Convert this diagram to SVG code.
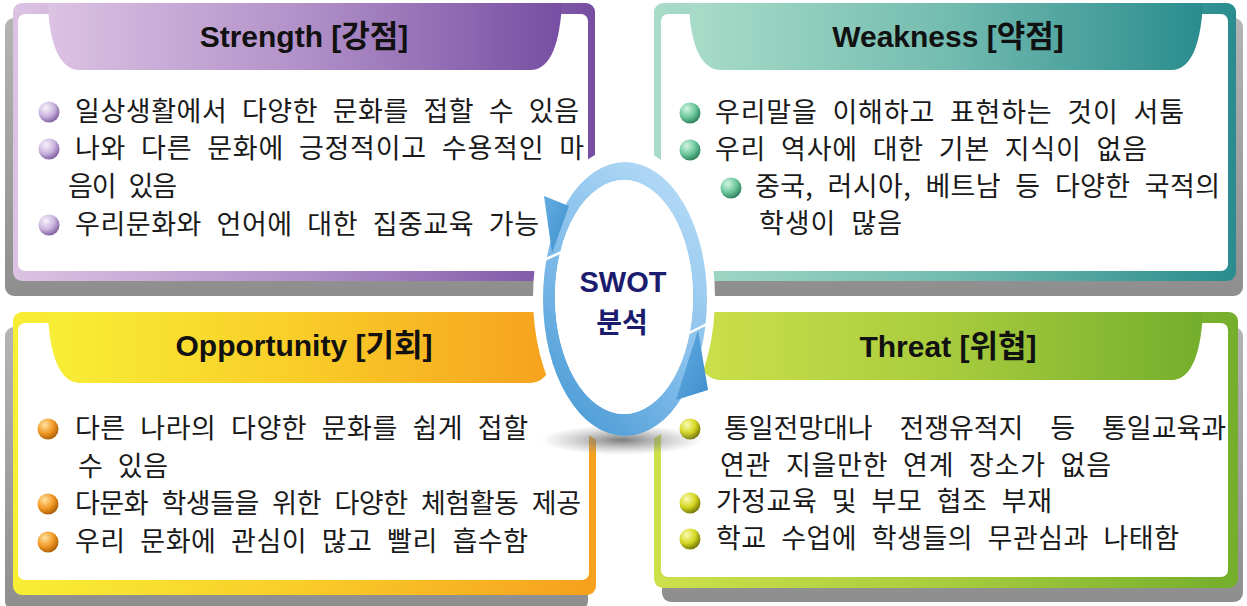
<svg xmlns="http://www.w3.org/2000/svg" width="1247" height="606" viewBox="0 0 1247 606">
<defs>
<style>
.title{font-family:"Liberation Sans","Noto Sans CJK KR",Arial,sans-serif;font-weight:bold;font-size:30px;fill:#111;text-anchor:middle}
.title .ko{font-family:"Noto Sans CJK KR","Liberation Sans",sans-serif;font-size:31px}
.body{font-family:"Noto Sans CJK KR","Noto Sans",sans-serif;font-size:27px;fill:#1a1a1a;word-spacing:8px}
.center{font-family:"Liberation Sans","Noto Sans CJK KR",Arial,sans-serif;font-weight:bold;fill:#1c1c6e;text-anchor:middle}
.inner{fill:#fff}
.shadow{fill:url(#gShadow)}
</style>
<linearGradient id="gShadow" x1="0" y1="0" x2="0" y2="1"><stop offset="0" stop-color="#b4b4b4"/><stop offset="1" stop-color="#8e8e8e"/></linearGradient>
<linearGradient id="gS" x1="0" y1="0" x2="1" y2="0"><stop offset="0" stop-color="#dcc2e3"/><stop offset="0.5" stop-color="#b190c8"/><stop offset="1" stop-color="#774ea2"/></linearGradient>
<linearGradient id="gW" x1="0" y1="0" x2="1" y2="0"><stop offset="0" stop-color="#a8dcc8"/><stop offset="0.5" stop-color="#74bcb0"/><stop offset="1" stop-color="#2a8c8e"/></linearGradient>
<linearGradient id="gO" x1="0" y1="0" x2="1" y2="0"><stop offset="0" stop-color="#f8ee36"/><stop offset="0.5" stop-color="#f9cc28"/><stop offset="1" stop-color="#f6a01e"/></linearGradient>
<linearGradient id="gT" x1="0" y1="0" x2="1" y2="0"><stop offset="0" stop-color="#cde04a"/><stop offset="0.5" stop-color="#a8cc3e"/><stop offset="1" stop-color="#74ae2c"/></linearGradient>
<radialGradient id="bS" cx="0.35" cy="0.3" r="0.75"><stop offset="0" stop-color="#f8f2fb"/><stop offset="0.55" stop-color="#cbb4de"/><stop offset="1" stop-color="#7a5a9c"/></radialGradient>
<radialGradient id="bW" cx="0.35" cy="0.3" r="0.75"><stop offset="0" stop-color="#d4f4e4"/><stop offset="0.55" stop-color="#6cc89c"/><stop offset="1" stop-color="#2a7a58"/></radialGradient>
<radialGradient id="bO" cx="0.35" cy="0.3" r="0.75"><stop offset="0" stop-color="#ffe2a0"/><stop offset="0.55" stop-color="#f29a26"/><stop offset="1" stop-color="#a85a06"/></radialGradient>
<radialGradient id="bT" cx="0.35" cy="0.3" r="0.75"><stop offset="0" stop-color="#fbfbb4"/><stop offset="0.55" stop-color="#d4d620"/><stop offset="1" stop-color="#6e7006"/></radialGradient>
<linearGradient id="gRing" x1="0.8" y1="0" x2="0.2" y2="1"><stop offset="0" stop-color="#b6dcf6"/><stop offset="0.5" stop-color="#88c0ec"/><stop offset="1" stop-color="#4a9bd6"/></linearGradient>
<linearGradient id="gBarb" x1="0" y1="0" x2="1" y2="1"><stop offset="0" stop-color="#62ade0"/><stop offset="1" stop-color="#3f8ecf"/></linearGradient>
<radialGradient id="gEllShadow" cx="0.5" cy="0.5" r="0.5"><stop offset="0" stop-color="#6e6e6e" stop-opacity="0.9"/><stop offset="1" stop-color="#9a9a9a" stop-opacity="0"/></radialGradient>
</defs>
<rect width="1247" height="606" fill="#fff"/>

<g id="strength">
<rect class="shadow" x="5" y="18" width="582" height="278" rx="9"/>
<rect x="13" y="3" width="582" height="278" rx="9" fill="url(#gS)"/>
<rect class="inner" x="18" y="14" width="570" height="257" rx="7"/>
<path d="M48,3 L562,3 C560,40 552,70 530,70 L80,70 C58,70 49,40 48,3 Z" fill="url(#gS)"/>
<text class="title" x="304" y="47">Strength [<tspan class="ko">강점</tspan>]</text>
<circle cx="49" cy="112" r="10.5" fill="url(#bS)"/>
<circle cx="49" cy="149" r="10.5" fill="url(#bS)"/>
<circle cx="49" cy="225" r="10.5" fill="url(#bS)"/>
<text class="body" x="75" y="121" textLength="504" lengthAdjust="spacing">일상생활에서 다양한 문화를 접할 수 있음</text>
<text class="body" x="75" y="158" textLength="509" lengthAdjust="spacing">나와 다른 문화에 긍정적이고 수용적인 마</text>
<text class="body" x="68" y="196" textLength="109" lengthAdjust="spacing">음이 있음</text>
<text class="body" x="75" y="234" textLength="464" lengthAdjust="spacing">우리문화와 언어에 대한 집중교육 가능</text>
</g>

<g id="weakness">
<rect class="shadow" x="662" y="18" width="581" height="278" rx="9"/>
<rect x="654" y="3" width="582" height="278" rx="9" fill="url(#gW)"/>
<rect class="inner" x="661" y="14" width="567" height="257" rx="7"/>
<path d="M689,3 L1203,3 C1201,40 1193,70 1171,70 L721,70 C699,70 690,40 689,3 Z" fill="url(#gW)"/>
<text class="title" x="948" y="47">Weakness [<tspan class="ko">약점</tspan>]</text>
<circle cx="690" cy="113" r="10.5" fill="url(#bW)"/>
<circle cx="690" cy="150" r="10.5" fill="url(#bW)"/>
<circle cx="731" cy="188" r="10.5" fill="url(#bW)"/>
<text class="body" x="715" y="122" textLength="469" lengthAdjust="spacing">우리말을 이해하고 표현하는 것이 서툼</text>
<text class="body" x="715" y="159" textLength="432" lengthAdjust="spacing">우리 역사에 대한 기본 지식이 없음</text>
<text class="body" x="755" y="196" textLength="465" lengthAdjust="spacing">중국, 러시아, 베트남 등 다양한 국적의</text>
<text class="body" x="759" y="233" textLength="143" lengthAdjust="spacing">학생이 많음</text>
</g>

<g id="opportunity">
<rect class="shadow" x="5" y="327" width="583" height="283" rx="9"/>
<rect x="13" y="312" width="583" height="283" rx="9" fill="url(#gO)"/>
<rect class="inner" x="18" y="323" width="571" height="257" rx="7"/>
<path d="M48,312 L562,312 C560,350 552,383 530,383 L80,383 C58,383 49,350 48,312 Z" fill="url(#gO)"/>
<text class="title" x="304" y="356">Opportunity [<tspan class="ko">기회</tspan>]</text>
<circle cx="48" cy="429" r="10.5" fill="url(#bO)"/>
<circle cx="48" cy="504" r="10.5" fill="url(#bO)"/>
<circle cx="48" cy="542" r="10.5" fill="url(#bO)"/>
<text class="body" x="75" y="438" textLength="453" lengthAdjust="spacing">다른 나라의 다양한 문화를 쉽게 접할</text>
<text class="body" x="78" y="476" textLength="90" lengthAdjust="spacing">수 있음</text>
<text class="body" x="75" y="513" textLength="506" lengthAdjust="spacing">다문화 학생들을 위한 다양한 체험활동 제공</text>
<text class="body" x="75" y="551" textLength="453" lengthAdjust="spacing">우리 문화에 관심이 많고 빨리 흡수함</text>
</g>

<g id="threat">
<rect class="shadow" x="662" y="327" width="581" height="275" rx="9"/>
<rect x="654" y="312" width="584" height="276" rx="9" fill="url(#gT)"/>
<rect class="inner" x="661" y="323" width="567" height="254" rx="7"/>
<path d="M689,312 L1203,312 C1201,350 1193,380 1171,380 L721,380 C699,380 690,350 689,312 Z" fill="url(#gT)"/>
<text class="title" x="948" y="357">Threat [<tspan class="ko">위협</tspan>]</text>
<circle cx="690" cy="429" r="10.5" fill="url(#bT)"/>
<circle cx="690" cy="503" r="10.5" fill="url(#bT)"/>
<circle cx="690" cy="539" r="10.5" fill="url(#bT)"/>
<text class="body" x="724" y="438" textLength="502" lengthAdjust="spacing" style="word-spacing:21px">통일전망대나 전쟁유적지 등 통일교육과</text>
<text class="body" x="720" y="475" textLength="391" lengthAdjust="spacing">연관 지을만한 연계 장소가 없음</text>
<text class="body" x="716" y="511" textLength="336" lengthAdjust="spacing">가정교육 및 부모 협조 부재</text>
<text class="body" x="716" y="548" textLength="463" lengthAdjust="spacing">학교 수업에 학생들의 무관심과 나태함</text>
</g>

<g id="swot-center">
<ellipse cx="624" cy="297" rx="91" ry="150" fill="#fff"/>
<ellipse cx="622" cy="440" rx="82" ry="15" fill="url(#gEllShadow)"/>
<g id="connectors">
<path d="M543,299 A82,137 0 1,0 707,299 A82,137 0 1,0 543,299 Z M555,297 A69,117 0 1,0 693,297 A69,117 0 1,0 555,297 Z" fill="url(#gRing)" fill-rule="evenodd"/>
<line x1="544" y1="260" x2="564" y2="251" stroke="#fff" stroke-width="2.5"/>
<polygon points="544,196 569,206 552,253" fill="url(#gBarb)"/>
<line x1="687" y1="334" x2="709" y2="323" stroke="#fff" stroke-width="2.5"/>
<polygon points="708,390 676,400 698,330" fill="url(#gBarb)"/>
</g>
<ellipse cx="624" cy="297" rx="69" ry="117" fill="#fff"/>
<text class="center" x="623" y="292" font-size="29">SWOT</text>
<text class="center" x="622" y="333" font-size="28">분석</text>
</g>
</svg>
